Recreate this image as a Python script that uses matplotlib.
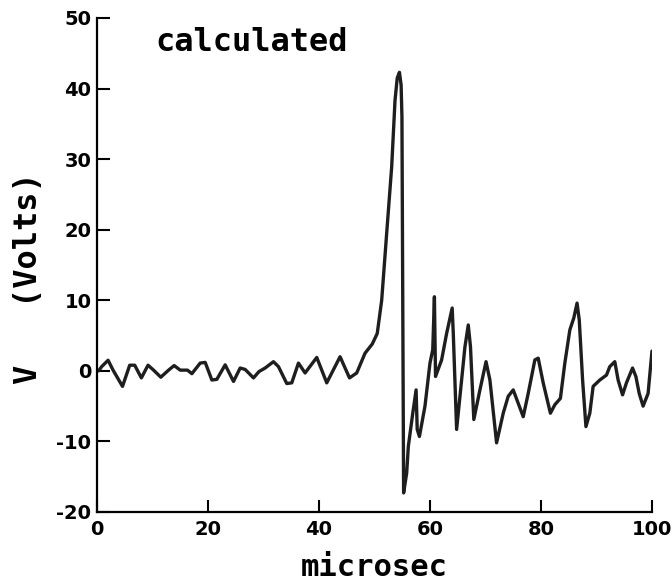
import matplotlib
matplotlib.use("Agg")
import matplotlib.pyplot as plt

# time (microsec) and voltage (Volts)
t_us = [0.3, 0.85, 2.0, 2.9, 4.6, 5.9, 6.8, 8.0, 9.2, 10.2, 11.5, 12.9, 13.9, 15.0,
        16.3, 17.1, 18.6, 19.5, 20.7, 21.6, 23.1, 24.6, 25.8, 26.7, 28.2, 29.2, 30.3,
        31.8, 32.7, 34.2, 35.1, 36.3, 37.5, 39.6, 41.4, 43.8, 45.5, 46.8, 48.3, 49.6,
        50.5, 51.3, 52.2, 53.1, 53.7, 54.1, 54.5, 54.8, 54.95,
        55.25, 55.8, 56.1, 56.9, 57.5, 57.7, 58.1, 59.1, 60.0, 60.5, 60.8, 61.0,
        62.1, 63.0, 64.0, 64.2, 64.8, 65.7, 66.3, 66.9, 67.3, 67.9, 69.0, 70.1,
        70.8, 72.0, 73.2, 74.1, 75.0, 75.9, 76.8, 77.7, 78.9, 79.5, 80.4, 81.7,
        82.5, 83.5, 84.3, 85.2, 85.9, 86.5, 86.9, 87.5, 88.1, 88.8, 89.4, 90.6,
        91.8, 92.4, 93.3, 93.9, 94.7, 95.4, 96.5, 97.1, 97.7, 98.4, 99.3, 100.0]
volts = [0.0, 0.6, 1.5, 0.1, -2.2, 0.8, 0.8, -1.0, 0.8, 0.1, -0.9, 0.1, 0.75, 0.1,
         0.1, -0.4, 1.1, 1.2, -1.3, -1.2, 0.85, -1.5, 0.4, 0.2, -1.0, -0.1, 0.4,
         1.3, 0.6, -1.8, -1.7, 1.1, -0.3, 1.9, -1.7, 2.0, -1.0, -0.3, 2.5, 3.8,
         5.3, 10.0, 19.5, 28.9, 38.3, 41.5, 42.3, 40.5, 36.0,
         -17.3, -14.5, -10.7, -6.0, -2.7, -8.3, -9.3, -5.0, 1.1, 3.0, 10.5, -0.8,
         1.55, 5.3, 8.9, 5.3, -8.3, -1.3, 3.4, 6.5, 3.4, -6.9, -2.7, 1.3,
         -1.3, -10.2, -6.0, -3.6, -2.7, -4.6, -6.5, -3.2, 1.55, 1.8, -1.7, -6.0,
         -4.8, -3.9, 1.1, 5.8, 7.45, 9.6, 7.2, -1.3, -7.9, -6.0, -2.2, -1.3,
         -0.6, 0.6, 1.3, -1.3, -3.4, -1.7, 0.4, -0.8, -3.2, -5.0, -3.2, 2.8]

x_ticks = [0, 20, 40, 60, 80, 100]
y_ticks = [-20, -10, 0, 10, 20, 30, 40, 50]

fig = plt.figure(figsize=(6.72, 5.86), dpi=100)
ax = fig.add_axes([0.1443, 0.1263, 0.8259, 0.8430])

ax.plot(t_us, volts, color="#1e1e1e", lw=2.4, solid_joinstyle="round",
        solid_capstyle="round")

ax.set_xlim(0, 100)
ax.set_ylim(-20, 50)
ax.set_xticks(x_ticks)
ax.set_yticks(y_ticks)
ax.set_xticklabels([str(v) for v in x_ticks])
ax.set_yticklabels([str(v) for v in y_ticks])

for s in ["top", "right"]:
    ax.spines[s].set_visible(False)
for s in ["left", "bottom"]:
    ax.spines[s].set_linewidth(1.6)
    ax.spines[s].set_color("black")

ax.tick_params(axis="both", direction="in", length=9, width=1.5, labelsize=14,
               colors="black")
ax.tick_params(axis="y", pad=4)
ax.tick_params(axis="x", pad=6)
for lab in ax.get_xticklabels() + ax.get_yticklabels():
    lab.set_fontweight("bold")

mono = ["DejaVu Sans Mono"]
ax.set_xlabel("microsec", fontsize=22, fontweight="bold", family=mono, labelpad=10)
ax.set_ylabel("V   (Volts)", fontsize=23, fontweight="bold", family=mono)
ax.yaxis.set_label_coords(-0.095, 0.474)
ax.text(0.1045, 0.951, "calculated", transform=ax.transAxes, fontsize=23,
        fontweight="bold", family=mono, ha="left", va="center")

fig.savefig("out.png", dpi=100)
